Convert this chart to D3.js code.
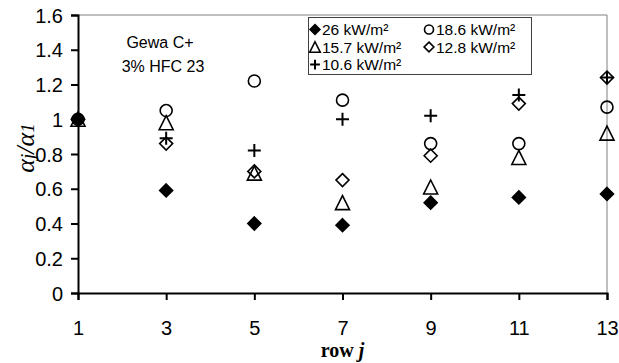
<!DOCTYPE html>
<html>
<head>
<meta charset="utf-8">
<script src="https://cdn.jsdelivr.net/npm/d3@7"></script>
<style>
  body { margin: 0; background: #fff; }
  svg { display: block; }
</style>
</head>
<body>
<div id="viz"><svg></svg></div>
<script>
// data
const rows = [1, 3, 5, 7, 9, 11, 13];
const q26 = [1.00, 0.59, 0.40, 0.39, 0.52, 0.55, 0.57];
const q186 = [1.00, 1.05, 1.22, 1.11, 0.86, 0.86, 1.07];
const q157 = [1.00, 0.98, 0.69, 0.52, 0.61, 0.78, 0.92];
const q128 = [1.00, 0.86, 0.70, 0.65, 0.79, 1.09, 1.24];
const q106 = [1.00, 0.89, 0.82, 1.00, 1.02, 1.14, 1.24];
const yTicks = [0, 0.2, 0.4, 0.6, 0.8, 1, 1.2, 1.4, 1.6];

const SETTINGS = {
  width: 619, height: 363,
  margin: {top: 15, right: 12, bottom: 70, left: 78}
};

const series = [
  {name: '18.6 kW/m²', values: q186, shape: 'circle'},
  {name: '15.7 kW/m²', values: q157, shape: 'triangle'},
  {name: '10.6 kW/m²', values: q106, shape: 'plus'},
  {name: '12.8 kW/m²', values: q128, shape: 'diamondOpen'},
  {name: '26 kW/m²', values: q26, shape: 'diamond'}
];

function markerPath(shape, r) {
  if (shape == 'diamond' || shape == 'diamondOpen')
    return `M0,${-r}L${r},0L0,${r}L${-r},0Z`;
  if (shape == 'triangle')
    return `M0,${-r}L${r},${r}L${-r},${r}Z`;
  if (shape == 'plus')
    return `M${-r},0H${r}M0,${-r}V${r}`;
  return `M${r},0A${r},${r} 0 1,1 ${-r},0A${r},${r} 0 1,1 ${r},0Z`;
}

function drawMarker(g, shape, x, y, scale) {
  const k = scale || 1;
  const sizes = {circle: 6, triangle: 7, plus: 6.5, diamond: 6.5, diamondOpen: 6.5};
  const r = sizes[shape] * k;
  g.append('path')
    .attr('transform', `translate(${x},${y})`)
    .attr('d', markerPath(shape, r))
    .attr('fill', shape == 'diamond' ? '#000' : 'none')
    .attr('stroke', '#000')
    .attr('stroke-width', shape == 'plus' ? 2 : 1.6);
}

const svg = d3.select('#viz').select('svg')
  .attr('width', SETTINGS.width)
  .attr('height', SETTINGS.height);

const m = SETTINGS.margin;
const plotW = SETTINGS.width - m.left - m.right;
const plotH = SETTINGS.height - m.top - m.bottom;

const xScale = d3.scaleLinear().domain([1, 13]).range([m.left, m.left + plotW]);
const yScale = d3.scaleLinear().domain([0, 1.6]).range([m.top + plotH, m.top]);

// frame (top and right)
svg.append('path')
  .attr('d', `M${m.left},${m.top}H${m.left + plotW}V${m.top + plotH}`)
  .attr('fill', 'none')
  .attr('stroke', '#808080')
  .attr('stroke-width', 1);

// axes
const xAxis = svg.append('g')
  .attr('transform', `translate(0,${m.top + plotH})`)
  .call(d3.axisBottom(xScale).tickValues(rows).tickSize(7).tickPadding(21).tickFormat(d3.format('d')));

const yAxis = svg.append('g')
  .attr('transform', `translate(${m.left},0)`)
  .call(d3.axisLeft(yScale).tickValues(yTicks).tickSize(7).tickPadding(8).tickFormat(d => d == 0 || d == 1 ? d : d3.format('.1f')(d)));

[xAxis, yAxis].forEach(a => {
  a.select('.domain').attr('stroke', '#000').attr('stroke-width', 2);
  a.selectAll('.tick line').attr('stroke', '#000').attr('stroke-width', 2);
  a.selectAll('.tick text')
    .attr('fill', '#000')
    .attr('font-family', 'Liberation Sans, Arial, sans-serif')
    .attr('font-size', 20);
});
yAxis.selectAll('.tick text').attr('dy', '0.36em');

// points
const pts = svg.append('g');
series.forEach(s => {
  s.values.forEach((v, i) => drawMarker(pts, s.shape, xScale(rows[i]), yScale(v)));
});

// axis titles
svg.append('text')
  .attr('x', xScale(7))
  .attr('y', 357)
  .attr('text-anchor', 'middle')
  .attr('font-family', 'Liberation Serif, Times New Roman, serif')
  .attr('font-weight', 'bold')
  .attr('font-size', 20)
  .html('row <tspan font-style="italic">j</tspan>');

svg.append('text')
  .attr('transform', `translate(34,148) rotate(-90)`)
  .attr('text-anchor', 'middle')
  .attr('font-family', 'Liberation Serif, Times New Roman, serif')
  .attr('font-style', 'italic')
  .attr('font-size', 26)
  .html('α<tspan font-size="19">j</tspan>/α<tspan font-size="19">1</tspan>');

// annotation
const note = svg.append('g')
  .attr('font-family', 'Liberation Sans, Arial, sans-serif')
  .attr('font-size', 16)
  .attr('text-anchor', 'middle');
note.append('text').attr('x', 160).attr('y', 48).text('Gewa C+');
note.append('text').attr('x', 163).attr('y', 72).text('3% HFC 23');

// legend
const legendItems = [
  {name: '26 kW/m²', shape: 'diamond', col: 0, row: 0},
  {name: '18.6 kW/m²', shape: 'circle', col: 1, row: 0},
  {name: '15.7 kW/m²', shape: 'triangle', col: 0, row: 1},
  {name: '12.8 kW/m²', shape: 'diamondOpen', col: 1, row: 1},
  {name: '10.6 kW/m²', shape: 'plus', col: 0, row: 2}
];
const lg = svg.append('g');
lg.append('rect')
  .attr('x', 308.5).attr('y', 17.5)
  .attr('width', 223).attr('height', 57)
  .attr('fill', '#fff')
  .attr('stroke', '#404040')
  .attr('stroke-width', 1);
legendItems.forEach(d => {
  const x0 = d.col == 0 ? 315 : 429;
  const y0 = 29.5 + d.row * 17.5;
  drawMarker(lg, d.shape, x0, y0, 0.75);
  lg.append('text')
    .attr('x', x0 + 7)
    .attr('y', y0 + 5.5)
    .attr('font-family', 'Liberation Sans, Arial, sans-serif')
    .attr('font-size', 15.5)
    .text(d.name);
});
</script>
</body>
</html>
